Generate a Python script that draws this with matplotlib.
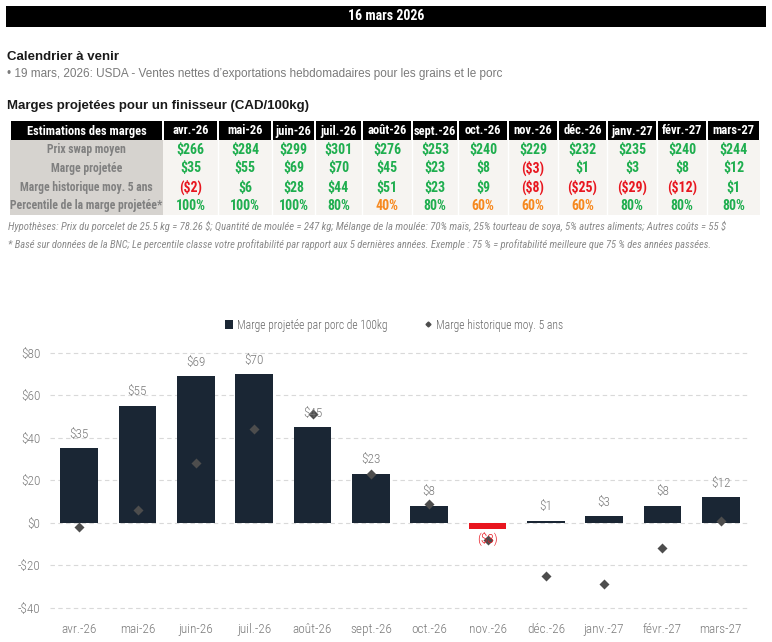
import os
import matplotlib
matplotlib.use("Agg")
import matplotlib.pyplot as plt
from matplotlib.patches import Rectangle, Patch
from matplotlib.lines import Line2D
from matplotlib import font_manager
from matplotlib.font_manager import FontProperties

W, H = 772, 642

# ---------------- data ----------------
months = ['avr.-26', 'mai-26', 'juin-26', 'juil.-26', 'août-26', 'sept.-26',
          'oct.-26', 'nov.-26', 'déc.-26', 'janv.-27', 'févr.-27', 'mars-27']
swap_price = [266, 284, 299, 301, 276, 253, 240, 229, 232, 235, 240, 244]
proj_margin = [35, 55, 69, 70, 45, 23, 8, -3, 1, 3, 8, 12]
hist_margin = [-2, 6, 28, 44, 51, 23, 9, -8, -25, -29, -12, 1]
percentile = [100, 100, 100, 80, 40, 80, 60, 60, 60, 80, 80, 80]
row_labels = ['Prix swap moyen', 'Marge projetée', 'Marge historique moy. 5 ans',
              'Percentile de la marge projetée*']
y_ticks = [-40, -20, 0, 20, 40, 60, 80]

# ---------------- fonts ----------------
plt.rcParams['text.parse_math'] = False
SANS = ['Liberation Sans', 'DejaVu Sans']
plt.rcParams['font.family'] = SANS


def _w(v):
    if isinstance(v, (int, float)):
        return int(v)
    return font_manager.weight_dict.get(str(v), 400)


def _cond_entries():
    out = []
    for f in font_manager.fontManager.ttflist:
        base = os.path.basename(f.fname).lower().replace(' ', '')
        if any(k in base for k in ('extracondensed', 'semicondensed', 'ultracondensed',
                                   'mono', 'serif', 'display')):
            continue
        full = (f.name + ' ' + base).lower()
        if 'condensed' in full or 'narrow' in full or f.stretch == 'condensed':
            out.append((base, f))
    return out


_entries = _cond_entries()
_group = []
for key in ('liberationsansnarrow', 'robotocondensed', 'notosans-condensed', 'notosanscondensed',
            'dejavusanscondensed', 'opensanscondensed', 'opensans_condensed'):
    _group = [f for b, f in _entries if key in b]
    if _group:
        break
if not _group:
    _group = [f for b, f in _entries]
HAVE_COND = bool(_group)


def fp(size, weight=400, italic=False):
    if not HAVE_COND:
        return FontProperties(family=SANS, size=size * 0.85, weight=weight,
                              style='italic' if italic else 'normal')
    best = None
    for f in _group:
        it = f.style in ('italic', 'oblique')
        sc = abs(_w(f.weight) - weight) + (0 if it == italic else 1000)
        if best is None or sc < best[0]:
            best = (sc, f)
    return FontProperties(fname=best[1].fname, size=size)


GREEN = '#1fae4f'
RED = '#e8161f'
ORANGE = '#f6891f'
GREY_TXT = '#808080'
NAVY = '#1a2634'

fig = plt.figure(figsize=(W / 100, H / 100), dpi=100)
fig.patch.set_facecolor('white')


def fx(x):
    return x / W


def fy(y):
    return 1 - y / H


def px_axes(l, t, r, b):
    return fig.add_axes([l / W, 1 - b / H, (r - l) / W, (b - t) / H])


# ---------------- header ----------------
fig.patches.append(Rectangle((fx(6), fy(26.5)), (766 - 6) / W, 20.5 / H,
                             transform=fig.transFigure, facecolor='black',
                             edgecolor='none', figure=fig))
fig.text(fx(386), fy(16.5), '16 mars 2026', color='white',
         fontproperties=fp(10, 700), ha='center', va='center')

fig.text(fx(7), fy(57), 'Calendrier à venir', color='#1a1a1a', fontsize=9.5,
         fontweight='bold', ha='left', va='center', family=SANS)
fig.text(fx(7), fy(74.5), "• 19 mars, 2026: USDA - Ventes nettes d’exportations hebdomadaires pour les grains et le porc",
         color='#7a7a7a', fontsize=8.5, ha='left', va='center', family=SANS)
fig.text(fx(7), fy(106), 'Marges projetées pour un finisseur (CAD/100kg)', color='#1a1a1a',
         fontsize=9.5, fontweight='bold', ha='left', va='center', family=SANS)

# ---------------- table ----------------
col_edges = [10, 163, 218, 272, 315, 362, 412, 458, 508, 558, 607, 657, 707, 760]
row_edges = [121, 140, 159, 178, 197, 215]
tax = px_axes(col_edges[0], row_edges[0], col_edges[-1], row_edges[-1])
tax.set_xlim(col_edges[0], col_edges[-1])
tax.set_ylim(row_edges[-1], row_edges[0])
tax.axis('off')

tax.add_patch(Rectangle((col_edges[0], row_edges[1]), col_edges[1] - col_edges[0],
                        row_edges[-1] - row_edges[1], facecolor='#d6d3cf', edgecolor='none'))
tax.add_patch(Rectangle((col_edges[1], row_edges[1]), col_edges[-1] - col_edges[1],
                        row_edges[-1] - row_edges[1], facecolor='#f6f4f1', edgecolor='none'))
for i in range(len(col_edges) - 1):
    tax.add_patch(Rectangle((col_edges[i] + 0.8, row_edges[0]), col_edges[i + 1] - col_edges[i] - 1.6,
                            row_edges[1] - row_edges[0], facecolor='black', edgecolor='none'))
for i in range(2, len(col_edges) - 1):
    tax.plot([col_edges[i], col_edges[i]], [row_edges[1], row_edges[-1]], color='white', lw=1)

header_cells = ['Estimations des marges'] + months
for i, t in enumerate(header_cells):
    cx = (col_edges[i] + col_edges[i + 1]) / 2
    tax.text(cx, (row_edges[0] + row_edges[1]) / 2 + 0.5, t, color='white',
             fontproperties=fp(9, 700), ha='center', va='center')

for r, lab in enumerate(row_labels):
    cy = (row_edges[r + 1] + row_edges[r + 2]) / 2
    tax.text((col_edges[0] + col_edges[1]) / 2, cy, lab, color=GREY_TXT,
             fontproperties=fp(8.4, 700), ha='center', va='center')


def money(v):
    return f'${v}' if v >= 0 else f'(${-v})'


for i in range(len(months)):
    cx = (col_edges[i + 1] + col_edges[i + 2]) / 2
    vals = [(money(swap_price[i]), GREEN),
            (money(proj_margin[i]), GREEN if proj_margin[i] >= 0 else RED),
            (money(hist_margin[i]), GREEN if hist_margin[i] >= 0 else RED),
            (f'{percentile[i]}%', GREEN if percentile[i] >= 80 else ORANGE)]
    for r, (t, c) in enumerate(vals):
        cy = (row_edges[r + 1] + row_edges[r + 2]) / 2
        tax.text(cx, cy, t, color=c, fontproperties=fp(10, 700), ha='center', va='center')

fig.text(fx(8), fy(226),
         'Hypothèses: Prix du porcelet de 25.5 kg = 78.26 $; Quantité de moulée = 247 kg; Mélange de la moulée: 70% maïs, 25% tourteau de soya, 5% autres aliments; Autres coûts = 55 $',
         color='#8a8a8a', fontproperties=fp(7.7, 400, True), ha='left', va='center')
fig.text(fx(8), fy(245),
         '* Basé sur données de la BNC; Le percentile classe votre profitabilité par rapport aux 5 dernières années. Exemple : 75 % = profitabilité meilleure que 75 % des années passées.',
         color='#8a8a8a', fontproperties=fp(7.6, 400, True), ha='left', va='center')

# ---------------- chart ----------------
ymin, ymax = -44, 86
ax = px_axes(50, 522.7 - ymax * 2.125, 750, 522.7 - ymin * 2.125)
x = list(range(len(months)))
bar_colors = [NAVY if v >= 0 else RED for v in proj_margin]
ax.bar(x, proj_margin, width=0.65, color=bar_colors, zorder=2)
ax.scatter(x, hist_margin, marker='D', s=26, color='#4d4d4d', zorder=3, linewidths=0)
ax.set_xlim(-0.5, len(months) - 0.5)
ax.set_ylim(ymin, ymax)
ax.set_yticks(y_ticks)
ax.set_yticklabels([f'${v}' if v >= 0 else f'-${-v}' for v in y_ticks])
ax.set_xticks(x)
ax.set_xticklabels(months)
for s in ax.spines.values():
    s.set_visible(False)
ax.tick_params(length=0, colors='#7a7a7a')
ax.tick_params(axis='y', pad=7)
ax.tick_params(axis='x', pad=5)
for lab in ax.get_xticklabels() + ax.get_yticklabels():
    lab.set_fontproperties(fp(9.5, 300))
for yv in y_ticks:
    ax.axhline(yv, color='#d9d9d9', lw=0.8, ls=(0, (4, 3)), zorder=1)

for xi, v in zip(x, proj_margin):
    if v >= 0:
        ax.annotate(money(v), (xi, v), xytext=(0, 10), textcoords='offset points',
                    ha='center', va='center', fontproperties=fp(9.5, 300), color='#7a7a7a', zorder=4)
    else:
        ax.annotate(money(v), (xi, v), xytext=(0, -6.5), textcoords='offset points',
                    ha='center', va='center', fontproperties=fp(9.5, 300), color=RED, zorder=4)

handles = [Patch(facecolor=NAVY, edgecolor='none'),
           Line2D([], [], marker='D', color='#4d4d4d', ls='none', markersize=2.5)]
leg = fig.legend(handles, ['Marge projetée par porc de 100kg', 'Marge historique moy. 5 ans'],
                 loc='center', bbox_to_anchor=(fx(394), fy(325)), ncol=2, frameon=False,
                 handlelength=0.7, handleheight=0.7, handletextpad=0.3, columnspacing=3.2,
                 prop=fp(8.3, 300))
for t in leg.get_texts():
    t.set_color('#666666')

fig.savefig('out.png', dpi=100, facecolor='white')
